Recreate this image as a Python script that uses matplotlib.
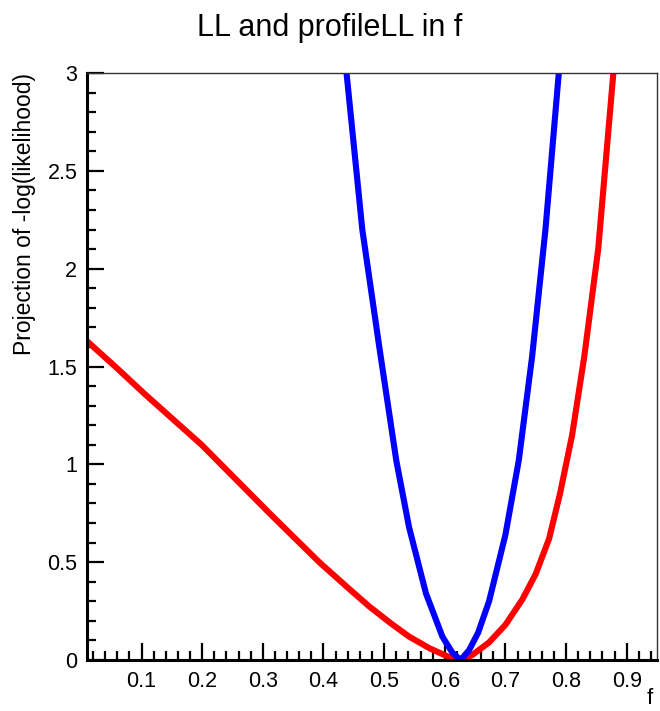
import numpy as np
import matplotlib
matplotlib.use("Agg")
import matplotlib.pyplot as plt
from matplotlib.ticker import MultipleLocator, FormatStrFormatter

plt.rcParams['font.family'] = ['Liberation Sans', 'DejaVu Sans']

# values
ll_f = [0.438, 0.464, 0.492, 0.520, 0.541, 0.569, 0.596, 0.612, 0.626,
        0.640, 0.655, 0.673, 0.700, 0.722, 0.744, 0.766, 0.788]
ll_y = [3.0, 2.20, 1.60, 1.02, 0.68, 0.34, 0.12, 0.04, 0.0,
        0.05, 0.14, 0.30, 0.64, 1.02, 1.55, 2.20, 3.0]

prof_f = [0.01, 0.06, 0.105, 0.199, 0.311, 0.393, 0.440, 0.475, 0.510, 0.541,
          0.575, 0.607, 0.625, 0.645, 0.673, 0.700, 0.728, 0.750, 0.772,
          0.790, 0.810, 0.830, 0.853, 0.878]
prof_y = [1.63, 1.49, 1.36, 1.10, 0.75, 0.50, 0.37, 0.275, 0.19, 0.12,
          0.06, 0.015, 0.0, 0.025, 0.09, 0.18, 0.31, 0.44, 0.62,
          0.85, 1.15, 1.55, 2.10, 3.0]

x_range = (0.01, 0.95)
y_range = (0, 3)

fig = plt.figure(figsize=(6.6, 7.11), dpi=100)
ax = fig.add_axes([0.1318, 0.0717, 0.8637, 0.8256])

ax.plot(prof_f, prof_y, color='#ff0000', lw=4.4, solid_joinstyle='round')
ax.plot(ll_f, ll_y, color='#0000ff', lw=4.4, solid_joinstyle='round')

ax.set_xlim(*x_range)
ax.set_ylim(*y_range)

ax.xaxis.set_major_locator(MultipleLocator(0.1))
ax.xaxis.set_minor_locator(MultipleLocator(0.02))
ax.yaxis.set_major_locator(MultipleLocator(0.5))
ax.yaxis.set_minor_locator(MultipleLocator(0.1))
ax.xaxis.set_major_formatter(FormatStrFormatter('%g'))
ax.yaxis.set_major_formatter(FormatStrFormatter('%g'))

ax.tick_params(which='both', direction='in', top=False, right=False,
               labelsize=15.5, colors='black', width=1.6)
ax.tick_params(which='major', length=12.5)
ax.tick_params(which='minor', length=6.5)
ax.tick_params(axis='x', which='major', pad=8)
ax.tick_params(axis='y', which='major', pad=7)

for side in ['left', 'bottom']:
    ax.spines[side].set_linewidth(2.2)
for side in ['top', 'right']:
    ax.spines[side].set_linewidth(1.0)
    ax.spines[side].set_color('#333333')

ax.set_xlabel('f', fontsize=16, ha='right')
ax.xaxis.set_label_coords(0.993, -0.047)
ax.set_ylabel('Projection of -log(likelihood)', fontsize=16.5, loc='top', labelpad=8)

fig.text(0.5, 0.9606, 'LL and profileLL in f', ha='center', va='center', fontsize=22)

fig.savefig('out.png', dpi=100)
